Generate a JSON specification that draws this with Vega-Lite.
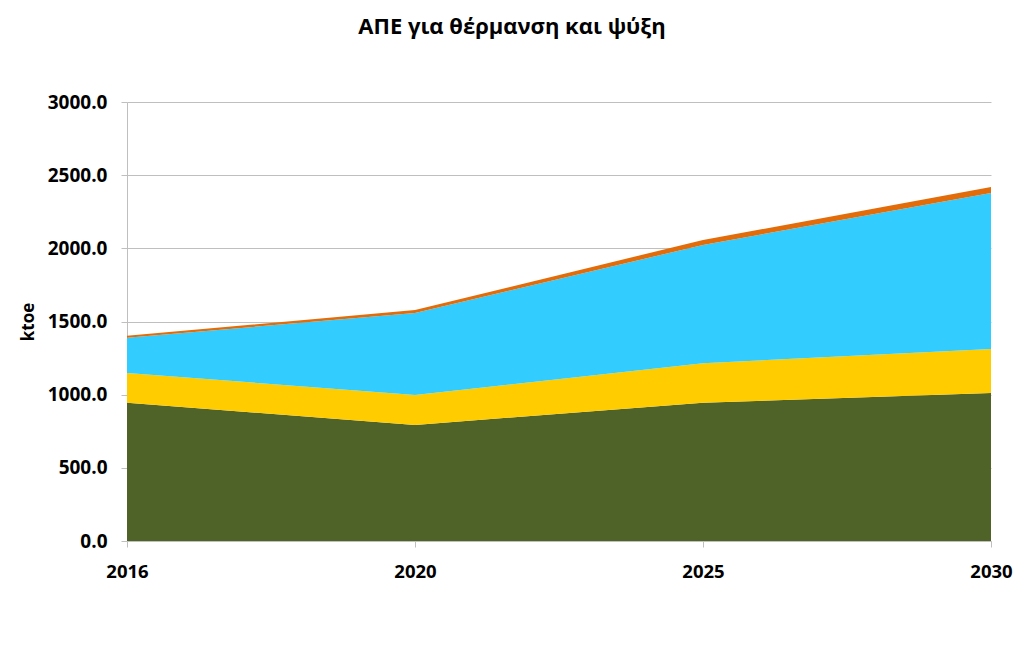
{
  "$schema": "https://vega.github.io/schema/vega-lite/v6.json",
  "width": 864,
  "height": 439,
  "autosize": {"type": "none"},
  "padding": {"left": 127, "top": 102, "right": 33, "bottom": 129},
  "background": "white",
  "title": {
    "text": "ΑΠΕ για θέρμανση και ψύξη",
    "font": "Open Sans",
    "fontSize": 22,
    "fontWeight": "bold",
    "color": "#000000",
    "anchor": "middle",
    "frame": "group",
    "dx": -47,
    "offset": 54
  },
  "data": {
    "values": [
      {"year": "2016", "series": "A", "order": 1, "value": 945},
      {"year": "2020", "series": "A", "order": 1, "value": 793},
      {"year": "2025", "series": "A", "order": 1, "value": 945},
      {"year": "2030", "series": "A", "order": 1, "value": 1011},
      {"year": "2016", "series": "B", "order": 2, "value": 203},
      {"year": "2020", "series": "B", "order": 2, "value": 205},
      {"year": "2025", "series": "B", "order": 2, "value": 270},
      {"year": "2030", "series": "B", "order": 2, "value": 301},
      {"year": "2016", "series": "C", "order": 3, "value": 241},
      {"year": "2020", "series": "C", "order": 3, "value": 560},
      {"year": "2025", "series": "C", "order": 3, "value": 808},
      {"year": "2030", "series": "C", "order": 3, "value": 1066},
      {"year": "2016", "series": "D", "order": 4, "value": 14},
      {"year": "2020", "series": "D", "order": 4, "value": 20},
      {"year": "2025", "series": "D", "order": 4, "value": 34},
      {"year": "2030", "series": "D", "order": 4, "value": 41}
    ]
  },
  "mark": {"type": "area", "opacity": 1},
  "encoding": {
    "x": {
      "field": "year",
      "type": "ordinal",
      "scale": {"type": "point", "padding": 0},
      "axis": {
        "title": null,
        "labelAngle": 0,
        "labelFont": "Open Sans",
        "labelFontSize": 18.5,
        "labelFontWeight": "bold",
        "labelColor": "#000000",
        "labelPadding": 15,
        "tickSize": 6,
        "tickColor": "#BFBFBF",
        "domainColor": "#BFBFBF",
        "grid": false
      }
    },
    "y": {
      "field": "value",
      "type": "quantitative",
      "stack": "zero",
      "scale": {"domain": [0, 3000], "nice": false},
      "axis": {
        "title": "ktoe",
        "titleFont": "Open Sans",
        "titleFontSize": 17,
        "titleFontWeight": "bold",
        "titleColor": "#000000",
        "titlePadding": 10,
        "values": [0, 500, 1000, 1500, 2000, 2500, 3000],
        "format": ".1f",
        "labelFont": "Open Sans",
        "labelFontSize": 19,
        "labelFontWeight": "bold",
        "labelColor": "#000000",
        "labelPadding": 14,
        "tickSize": 6,
        "tickColor": "#BFBFBF",
        "domainColor": "#BFBFBF",
        "gridColor": "#BFBFBF",
        "gridWidth": 1
      }
    },
    "color": {
      "field": "series",
      "type": "nominal",
      "scale": {"domain": ["A", "B", "C", "D"], "range": ["#4F6228", "#FFCC00", "#33CCFF", "#E36C0A"]},
      "legend": null
    },
    "order": {"field": "order", "type": "quantitative"}
  },
  "config": {
    "view": {"stroke": null}
  }
}
